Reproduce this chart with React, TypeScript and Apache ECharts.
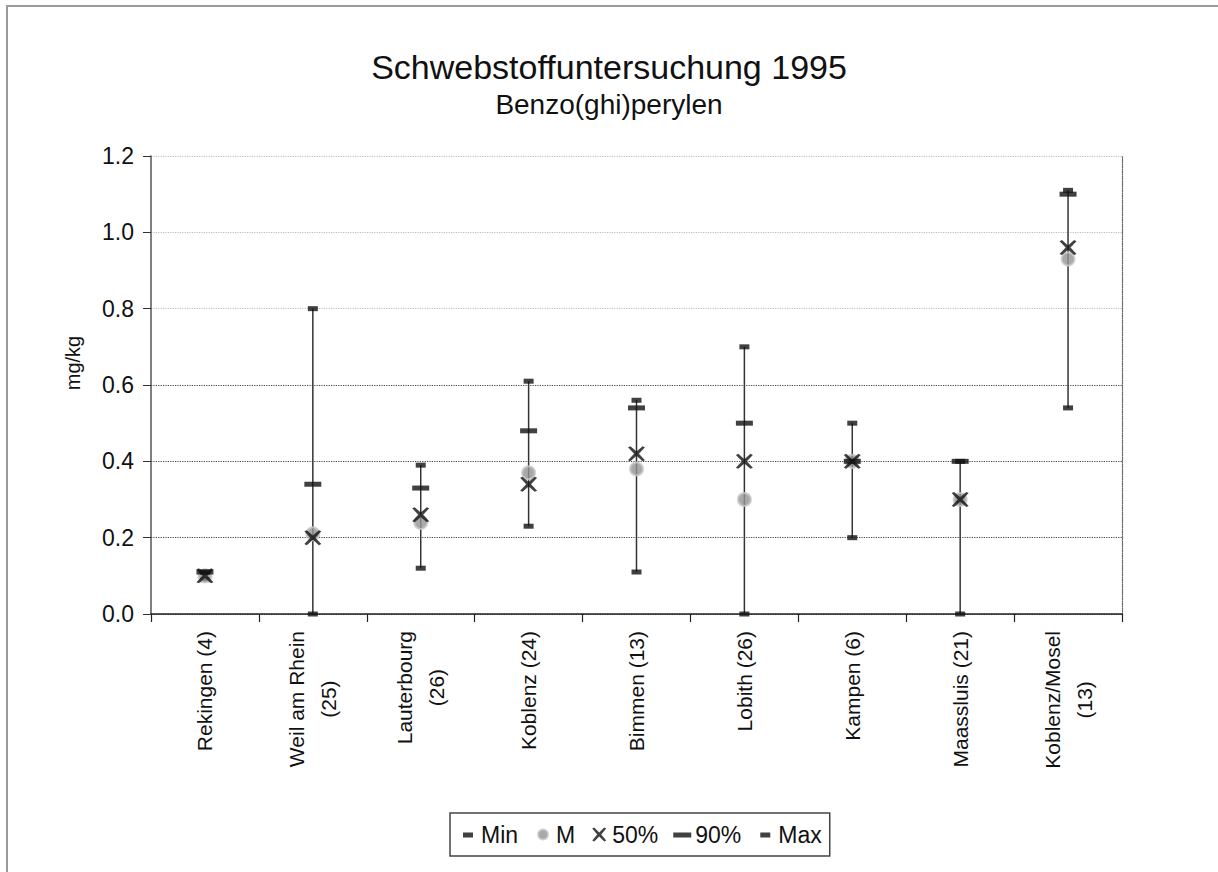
import { useEffect, useRef } from 'react';
import * as echarts from 'echarts';

const categories = [
  'Rekingen (4)',
  'Weil am Rhein\n(25)',
  'Lauterbourg\n(26)',
  'Koblenz (24)',
  'Bimmen (13)',
  'Lobith (26)',
  'Kampen (6)',
  'Maassluis (21)',
  'Koblenz/Mosel\n(13)',
];
const minValues = [0.09, 0.0, 0.12, 0.23, 0.11, 0.0, 0.2, 0.0, 0.54];
const meanValues = [0.1, 0.21, 0.24, 0.37, 0.38, 0.3, 0.4, 0.3, 0.93];
const p50Values = [0.1, 0.2, 0.26, 0.34, 0.42, 0.4, 0.4, 0.3, 0.96];
const p90Values = [0.11, 0.34, 0.33, 0.48, 0.54, 0.5, 0.4, 0.4, 1.1];
const maxValues = [0.11, 0.8, 0.39, 0.61, 0.56, 0.7, 0.5, 0.4, 1.11];
const seriesNames = ['Min', 'M', '50%', '90%', 'Max'];

const FONT = '"Liberation Sans", Arial, Helvetica, sans-serif';
const CAT_SIZE = 21;

const X_SYMBOL = 'path://M0,1L2,0L7,5L12,0L14,1L9,7L14,13L12,14L7,9L2,14L0,13L5,7Z';
const ICON_SHORT = 'path://M0,0M20,20M5,8H15V13H5Z';
const ICON_LONG = 'path://M0,0M20,20M1,8H19V13H1Z';
const ICON_CIRCLE = 'path://M0,0M20,20M5,10A5,5 0 1 1 15,10A5,5 0 1 1 5,10Z';
const ICON_X = 'path://M0,0M20,20M3,4L5,3L10,8L15,3L17,4L12,10L17,16L15,17L10,12L5,17L3,16L8,10Z';

function measure(text: string, size: number): number {
  const ctx = document.createElement('canvas').getContext('2d');
  if (!ctx) return text.length * size * 0.55;
  ctx.font = `${size}px "Liberation Sans"`;
  return ctx.measureText(text).width;
}

export default function App() {
  const ref = useRef<HTMLDivElement>(null);

  useEffect(() => {
    if (!ref.current) return;
    const chart = echarts.init(ref.current, undefined, { renderer: 'svg' });

    const rich: Record<string, any> = {};
    categories.forEach((c, i) => {
      const lines = c.split('\n');
      const w = Math.max(...lines.map((l) => measure(l, CAT_SIZE))) + 2;
      rich['c' + i] = {
        width: w,
        align: 'center',
        fontSize: CAT_SIZE,
        lineHeight: 32,
        fontFamily: FONT,
        color: '#111',
      };
    });

    const highLow = categories.map((_, i) => {
      const vals = [minValues[i], meanValues[i], p50Values[i], p90Values[i], maxValues[i]];
      return [i, Math.min(...vals), Math.max(...vals)];
    });

    const option: any = {
      animation: false,
      backgroundColor: '#fff',
      textStyle: { fontFamily: FONT, color: '#111' },
      title: {
        text: 'Schwebstoffuntersuchung 1995',
        subtext: 'Benzo(ghi)perylen',
        left: 'center',
        top: 45,
        itemGap: 6,
        textStyle: { fontSize: 34, fontWeight: 'normal', color: '#111', fontFamily: FONT },
        subtextStyle: { fontSize: 28, color: '#111', fontFamily: FONT },
      },
      graphic: [
        {
          type: 'rect',
          silent: true,
          z: -10,
          shape: { x: 7, y: 6, width: 1240, height: 900 },
          style: { fill: 'none', stroke: '#9a9a9a', lineWidth: 2 },
        },
      ],
      legend: {
        left: 450,
        top: 813,
        orient: 'horizontal',
        itemWidth: 20,
        itemHeight: 20,
        itemGap: 14,
        padding: [10, 8],
        borderColor: '#444',
        borderWidth: 1.5,
        textStyle: { fontSize: 23, color: '#111', fontFamily: FONT, padding: [0, 0, 0, -2] },
        data: [
          { name: 'Min', icon: ICON_SHORT },
          { name: 'M', icon: ICON_CIRCLE },
          { name: '50%', icon: ICON_X },
          { name: '90%', icon: ICON_LONG },
          { name: 'Max', icon: ICON_SHORT },
        ],
      },
      grid: { left: 151, right: 96, top: 156, bottom: 258, containLabel: false },
      xAxis: {
        type: 'category',
        data: categories,
        boundaryGap: true,
        axisLine: { show: true, lineStyle: { color: '#222', width: 1.5 } },
        axisTick: { show: true, length: 8, alignWithLabel: false, lineStyle: { color: '#222', width: 1.2 } },
        axisLabel: {
          rotate: 90,
          margin: 16,
          interval: 0,
          fontSize: CAT_SIZE,
          color: '#111',
          fontFamily: FONT,
          formatter: (value: string, index: number) =>
            value
              .split('\n')
              .map((l) => `{c${index}|${l}}`)
              .join('\n'),
          rich,
        },
        splitLine: { show: false },
      },
      yAxis: [
        {
          type: 'value',
          min: 0,
          max: 1.2,
          interval: 0.2,
          name: 'mg/kg',
          nameLocation: 'middle',
          nameGap: 68,
          nameRotate: 90,
          nameTextStyle: { fontSize: 20, color: '#111', fontFamily: FONT, padding: [0, 0, 0, 44] },
          axisLine: { show: true, lineStyle: { color: '#555', width: 1.5 } },
          axisTick: { show: true, length: 8, lineStyle: { color: '#333' } },
          axisLabel: {
            fontSize: 23,
            margin: 17,
            color: '#111',
            fontFamily: FONT,
            formatter: (v: number) => v.toFixed(1),
          },
          splitLine: {
            show: true,
            lineStyle: {
              type: 'dotted',
              width: 1.2,
              color: ['#444', '#444', '#444', '#444', '#bbb', '#bbb', '#bbb'],
            },
          },
        },
        {
          type: 'value',
          min: 0,
          max: 1.2,
          interval: 0.2,
          position: 'right',
          axisLine: { show: true, lineStyle: { color: '#666', width: 1.2, type: 'dotted' } },
          axisTick: { show: false },
          axisLabel: { show: false },
          splitLine: { show: false },
        },
      ],
      series: [
        {
          name: 'range',
          type: 'custom',
          data: highLow,
          encode: { x: 0, y: [1, 2] },
          z: 1,
          renderItem: (_params: any, api: any) => {
            const x = api.value(0);
            const lo = api.coord([x, api.value(1)]);
            const hi = api.coord([x, api.value(2)]);
            return {
              type: 'line',
              shape: { x1: lo[0], y1: lo[1], x2: hi[0], y2: hi[1] },
              style: { stroke: '#333', lineWidth: 1.5 },
            };
          },
        },
        {
          name: seriesNames[0],
          type: 'scatter',
          data: minValues,
          symbol: 'rect',
          symbolSize: [10, 5],
          itemStyle: { color: '#111' },
          z: 3,
        },
        {
          name: seriesNames[1],
          type: 'scatter',
          data: meanValues,
          symbol: 'circle',
          symbolSize: 13,
          itemStyle: { color: '#949494', borderColor: '#c8c8c8', borderWidth: 2 },
          z: 3,
        },
        {
          name: seriesNames[2],
          type: 'scatter',
          data: p50Values,
          symbol: X_SYMBOL,
          symbolSize: [17, 15],
          itemStyle: { color: '#111' },
          z: 4,
        },
        {
          name: seriesNames[3],
          type: 'scatter',
          data: p90Values,
          symbol: 'rect',
          symbolSize: [17, 5],
          itemStyle: { color: '#111' },
          z: 4,
        },
        {
          name: seriesNames[4],
          type: 'scatter',
          data: maxValues,
          symbol: 'rect',
          symbolSize: [10, 5],
          itemStyle: { color: '#111' },
          z: 4,
        },
      ],
    };

    chart.setOption(option);
    return () => {
      chart.dispose();
    };
  }, []);

  return (
    <div
      ref={ref}
      style={{ position: 'absolute', left: 0, top: 0, width: 1218, height: 872 }}
    />
  );
}
